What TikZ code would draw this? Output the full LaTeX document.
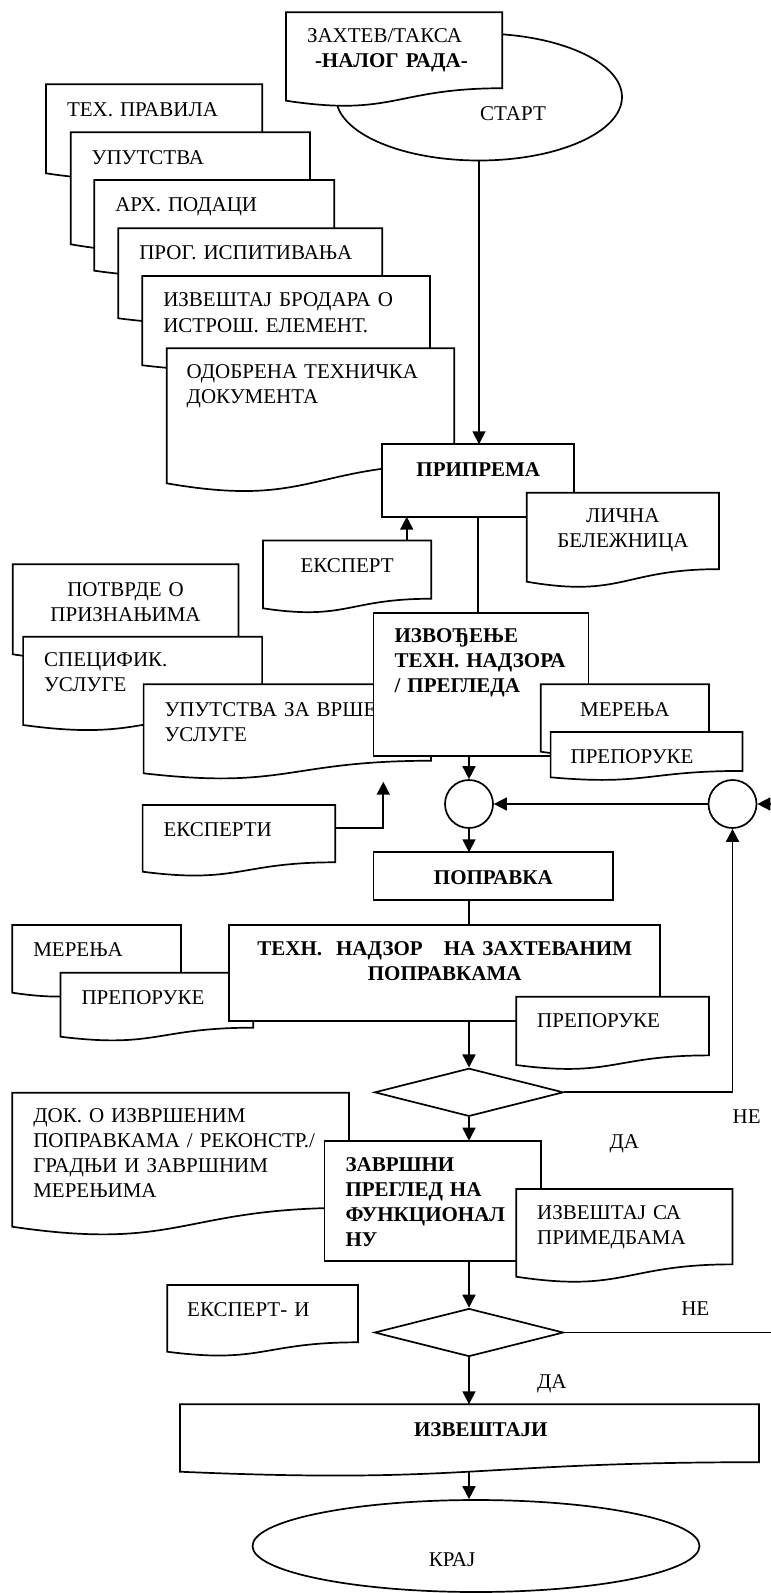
\documentclass[tikz,border=0pt]{standalone}
\usepackage{fontspec}
\setmainfont{Liberation Serif}
\usetikzlibrary{shapes.geometric,arrows.meta}

\newdimen\docxa \newdimen\docya \newdimen\docxb \newdimen\docyb
\newdimen\docxm \newdimen\docyr \newdimen\docyc
\makeatletter
% rectangle with a wavy bottom edge
\pgfdeclareshape{docshape}{%
  \inheritsavedanchors[from=rectangle]%
  \inheritanchorborder[from=rectangle]%
  \inheritanchor[from=rectangle]{center}%
  \inheritanchor[from=rectangle]{mid}%
  \inheritanchor[from=rectangle]{base}%
  \inheritanchor[from=rectangle]{text}%
  \inheritanchor[from=rectangle]{north}%
  \inheritanchor[from=rectangle]{south}%
  \inheritanchor[from=rectangle]{east}%
  \inheritanchor[from=rectangle]{west}%
  \inheritanchor[from=rectangle]{north east}%
  \inheritanchor[from=rectangle]{north west}%
  \inheritanchor[from=rectangle]{south east}%
  \inheritanchor[from=rectangle]{south west}%
  \backgroundpath{%
    \southwest \docxa=\pgf@x \docya=\pgf@y
    \northeast \docxb=\pgf@x \docyb=\pgf@y
    \docxm=.5\docxa \advance\docxm by .5\docxb
    \docyr=\docyb \advance\docyr by -\docya
    \docyc=1.186\docyr \docyr=.859\docyr
    \docyr=-\docyr \advance\docyr by \docyb
    \docyc=-\docyc \advance\docyc by \docyb
    \pgfpathmoveto{\pgfpoint{\docxa}{\docyb}}%
    \pgfpathlineto{\pgfpoint{\docxb}{\docyb}}%
    \pgfpathlineto{\pgfpoint{\docxb}{\docyr}}%
    \pgfpathcurveto{\pgfpoint{\docxm}{\docyr}}{\pgfpoint{\docxm}{\docyc}}{\pgfpoint{\docxa}{\docya}}%
    \pgfpathclose
  }%
}
\makeatother

\begin{document}
\begin{tikzpicture}[x=1pt,y=-1pt,line width=1.7pt,
    every node/.style={font=\fontsize{21}{25}\selectfont},
    sz/.code n args={4}{\pgfmathsetmacro\szw{#1-2*#3}\pgfmathsetmacro\szd{#2-#4}%
      \tikzset{inner xsep=#3pt,inner ysep=0pt,text width=\szw pt,text height=#4pt,text depth=\szd pt}},
    proc/.style={rectangle,draw,fill=white,outer sep=0pt,anchor=north west,
      font=\fontsize{21}{25}\selectfont\bfseries},
    doc/.style={docshape,draw,fill=white,outer sep=0pt,anchor=north west,align=left},
    term/.style={ellipse,draw,fill=white,inner sep=0pt},
    con/.style={circle,draw,fill=white,inner sep=0pt,minimum size=48pt},
    dec/.style={diamond,draw,fill=white,inner sep=0pt,minimum width=189pt,minimum height=48pt},
    lbl/.style={anchor=base,inner sep=0pt},
    arr/.style={-{Triangle[length=13pt,width=13pt]}}]
\useasboundingbox (0,0) rectangle (771,1593);
\clip (0,0) rectangle (771,1593);

% start
\node[term,minimum width=286pt,minimum height=127pt] (start) at (479,97) {};
\node[doc,sz={216.3}{88.4}{21}{30.4}] (zahtev) at (286,12.3) {ЗАХТЕВ/ТАКСА\\\hspace*{8pt}\textbf{-НАЛОГ~РАДА-}};
\node[lbl] (starttxt) at (513,120) {СТАРТ};

% documents for the preparation
\node[doc,sz={216.3}{89}{21}{32}] (tehpr) at (46,84.3) {ТЕХ.~ПРАВИЛА};
\node[doc,sz={239.3}{112}{21}{32}] (uput) at (70.7,132.3) {УПУТСТВА};
\node[doc,sz={240}{90.7}{21}{31}] (arh) at (94.3,180) {АРХ.~ПОДАЦИ};
\node[doc,sz={264}{90}{21}{31}] (prog) at (118.3,228.3) {ПРОГ.~ИСПИТИВАЊА};
\node[doc,sz={287.7}{89.3}{21}{30}] (brod) at (142.3,276) {ИЗВЕШТАЈ~БРОДАРА~О\\[1.5pt]ИСТРОШ.~ЕЛЕМЕНТ.};
\node[doc,sz={287.6}{135}{20}{30}] (odob) at (166.7,348.3) {ОДОБРЕНА~ТЕХНИЧКА\\ДОКУМЕНТА};

\node[proc,align=center,sz={192}{72.4}{8}{31.7}] (prip) at (382.3,444.3) {ПРИПРЕМА};
\node[doc,align=center,sz={192.3}{89}{8}{30}] (licna) at (526.7,492.7) {ЛИЧНА\\БЕЛЕЖНИЦА};
\draw[arr] (start.south) -- (start.south |- prip.north);
\node[doc,align=center,sz={168.2}{67.8}{8}{32}] (eksp) at (263,540.5) {ЕКСПЕРТ};
\coordinate (ekspt) at ([xshift=-24.5pt]eksp.north east);
\draw[arr] (ekspt) -- (ekspt |- prip.south);

% survey
\node[doc,align=center,sz={225.7}{90}{8}{31.7}] (potv) at (12.7,564.3) {ПОТВРДЕ~О\\ПРИЗНАЊИМА};
\node[doc,sz={239}{88.3}{21}{30}] (spec) at (23.1,636.7) {СПЕЦИФИК.\\УСЛУГЕ};
\node[doc,sz={287.4}{89}{21}{32.4}] (uputza) at (143.6,684.3) {УПУТСТВА~ЗА~ВРШЕ\\УСЛУГЕ};
\node[proc,align=left,sz={215}{143.3}{21}{30}] (izvo) at (373.6,612.7) {ИЗВОЂЕЊЕ\\ТЕХН.~НАДЗОРА\\/~ПРЕГЛЕДА};
\draw (prip.south) -- (prip.south |- izvo.north);
\node[doc,align=center,sz={168.2}{67.4}{4}{32.4}] (merr) at (540.8,684.3) {МЕРЕЊА};
\node[doc,sz={191.8}{45.3}{20}{31.3}] (prepr) at (550.6,732) {ПРЕПОРУКЕ};

\node[con] (c1) at (469,804) {};
\node[con] (c2) at (732.5,804) {};
\draw[arr] (c1 |- izvo.south) -- (c1.north);
\draw[arr] (c2.west) -- (c1.east);
\node[doc,sz={192.7}{66.7}{21}{31}] (ekspti) at (142.6,805) {ЕКСПЕРТИ};
\coordinate (ekspup) at (383.3,781.7);
\draw[arr] ([yshift=-23.3pt]ekspti.north east) -| (ekspup);

% repair
\node[proc,align=center,sz={239.4}{47.7}{8}{32}] (popr) at (373.6,852.3) {ПОПРАВКА};
\draw[arr] (c1.south) -- (c1 |- popr.north);
\node[doc,sz={168.7}{67.7}{21}{31}] (merl) at (12.3,925) {МЕРЕЊА};
\node[doc,sz={192.7}{64}{21}{31.3}] (prepl) at (60.5,972.7) {ПРЕПОРУКЕ};
\node[proc,align=center,sz={431.2}{95.7}{8}{30}] (tehn) at (229.1,925) {ТЕХН.\ \ НАДЗОР\ \ \ НА ЗАХТЕВАНИМ\\ПОПРАВКАМА};
\draw (c1 |- popr.south) -- (c1 |- tehn.north);
\node[doc,sz={192.8}{68.3}{21}{30.6}] (prepr2) at (516.2,996.7) {ПРЕПОРУКЕ};

\node[dec] (dec1) at (469,1092.3) {};
\draw[arr] (c1 |- tehn.south) -- (dec1.north);
\draw[arr] (dec1.east) -| (c2.south);
\node[lbl] (ne1) at (746.7,1123.3) {НЕ};
\node[lbl] (da1) at (624.3,1148.3) {ДА};

% final check
\node[doc,sz={336.7}{134}{21}{30}] (dok) at (12.3,1092.7) {ДОК.~О~ИЗВРШЕНИМ\\ПОПРАВКАМА~/~РЕКОНСТР./\\ГРАДЊИ~И~ЗАВРШНИМ\\МЕРЕЊИМА};
\node[proc,align=left,sz={216.3}{120}{21}{31}] (zavr) at (324.5,1140.7) {ЗАВРШНИ\\ПРЕГЛЕД~НА\\ФУНКЦИОНАЛ\\НУ};
\draw[arr] (dec1.south) -- (dec1.south |- zavr.north);
\node[doc,sz={216.3}{87.7}{21}{30.3}] (izvsa) at (516.2,1189) {ИЗВЕШТАЈ~СА\\ПРИМЕДБАМА};
\node[doc,sz={190.7}{66.7}{20}{31}] (ekspi) at (167.2,1285) {ЕКСПЕРТ- И};
\node[dec] (dec2) at (469,1332.5) {};
\draw[arr] (dec2 |- zavr.south) -- (dec2.north);
\draw[arr] (dec2.east) -- ++(230,0) |- (c2.east);
\node[lbl] (ne2) at (695.3,1315) {НЕ};
\node[lbl] (da2) at (551.8,1388.3) {ДА};

% end
\node[doc,align=center,font=\fontsize{21}{25}\selectfont\bfseries,sz={579}{67.4}{8}{32.4}] (izvj) at (180,1404.3) {\hspace*{22.6pt}ИЗВЕШТАЈИ};
\draw[arr] (dec2.south) -- (dec2.south |- izvj.north);
\node[term,minimum width=447pt,minimum height=92pt] (kraj) at (476,1546) {};
\node[lbl] (krajtxt) at (452,1566.7) {КРАЈ};
\draw[arr] (dec2 |- izvj.south) -- (dec2 |- kraj.north);
\end{tikzpicture}
\end{document}
